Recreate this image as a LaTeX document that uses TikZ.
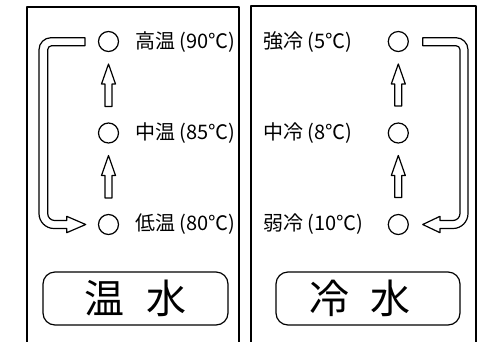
\documentclass[tikz,border=0pt]{standalone}
\usepackage{fontspec}
\setmainfont{Noto Sans CJK JP}
\begin{document}
\begin{tikzpicture}[x=1pt,y=-1pt,line join=round,
  panel/.style={line width=1.6pt},
  ln/.style={line width=1.2pt},
  lamp/.style={circle,draw,line width=1.2pt,minimum size=20pt,inner sep=0pt},
  lbl/.style={anchor=west,inner sep=0pt,font=\fontsize{20}{20}\selectfont},
  badge/.style={draw,rounded corners=12pt,line width=1.2pt,inner sep=0pt,
     minimum height=53pt,font=\fontsize{40}{40}\selectfont}]
\newcommand\blockup[3]{%
  \draw[ln] (#1,#2) -- (#1+7,#2+20) -- (#1+3.5,#2+20) -- (#1+3.5,#3)
    -- (#1-3.5,#3) -- (#1-3.5,#2+20) -- (#1-7,#2+20) -- cycle;}
\useasboundingbox (0,0) rectangle (490,341);
\fill[white] (0,0) rectangle (490,341);
% panels
\draw[panel] (27,345) -- (27,7) -- (239,7) -- (239,345);
\draw[panel] (251,345) -- (251,6) -- (476,6) -- (476,345);
% left panel
\node[lamp] (h1) at (108.5,41.5) {};
\node[lamp] (h2) at (108.5,133) {};
\node[lamp] (h3) at (108.5,224.5) {};
\node[lbl] (t1) at (135,42) {高温 (90℃)};
\node[lbl] (t2) at (135,133) {中温 (85℃)};
\node[lbl] (t3) at (135,224.5) {低温 (80℃)};
\blockup{108.5}{64}{106.5}
\blockup{108.5}{155.5}{198}
\draw[ln] (85,37.7) [rounded corners=12pt] -- (39,37.7) [rounded corners=15pt] -- (39,228.5)
  [sharp corners] -- (66.7,228.5) -- (66.7,232.7) -- (85.7,224.5) -- (66.7,216.3) -- (66.7,220.5)
  [rounded corners=7pt] -- (47.7,220.5) [rounded corners=4pt] -- (47.7,45.7) [sharp corners] -- (85,45.7) -- cycle;
\node[badge,minimum width=185pt] (hot) at (135.5,298.5) {温\hspace{22pt}水};
% right panel
\node[lamp] (c1) at (398.3,41.5) {};
\node[lamp] (c2) at (398.3,133) {};
\node[lamp] (c3) at (398.3,224.5) {};
\node[lbl] (s1) at (263,42) {強冷 (5℃)};
\node[lbl] (s2) at (263,133) {中冷 (8℃)};
\node[lbl] (s3) at (263,224.5) {弱冷 (10℃)};
\blockup{398.3}{64}{106}
\blockup{398.3}{155.5}{197.5}
\draw[ln] (422.7,37.7) [rounded corners=12pt] -- (468,37.7) [rounded corners=15pt] -- (468,228.5)
  [sharp corners] -- (440,228.5) -- (440,232.7) -- (422.7,224.5) -- (440,216.3) -- (440,220.5)
  [rounded corners=7pt] -- (460,220.5) [rounded corners=4pt] -- (460,45.7) [sharp corners] -- (422.7,45.7) -- cycle;
\node[badge,minimum width=184pt] (cold) at (368,298.5) {\hspace{-16pt}冷\hspace{22pt}水};
\end{tikzpicture}
\end{document}
